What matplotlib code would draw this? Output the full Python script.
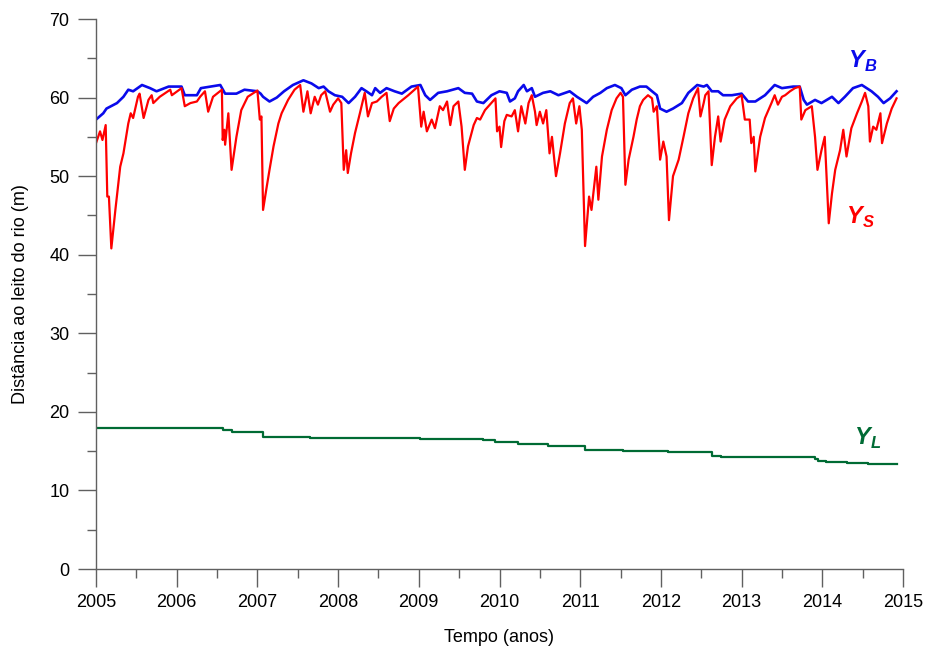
import numpy as np
import matplotlib
matplotlib.use('Agg')
import matplotlib.pyplot as plt
import matplotlib.ticker as ticker

plt.rcParams['font.family'] = ['Liberation Sans', 'DejaVu Sans']
plt.rcParams['mathtext.fontset'] = 'custom'
plt.rcParams['mathtext.bfit'] = 'Liberation Sans:italic:bold'
plt.rcParams['mathtext.rm'] = 'Liberation Sans'

# Y_S (vermelho)
ys_t = [2005.00, 2005.05, 2005.08, 2005.12, 2005.14, 2005.16, 2005.19, 2005.24, 2005.30, 2005.34,
        2005.40, 2005.43, 2005.46, 2005.52, 2005.54, 2005.59, 2005.65, 2005.69, 2005.71, 2005.79,
        2005.92, 2005.94, 2006.06, 2006.10, 2006.17, 2006.25, 2006.29, 2006.35, 2006.39, 2006.45,
        2006.56, 2006.57, 2006.59, 2006.60, 2006.64, 2006.68, 2006.74, 2006.80, 2006.88, 2007.00,
        2007.03, 2007.05, 2007.07, 2007.11, 2007.15, 2007.20, 2007.26, 2007.30, 2007.38, 2007.46,
        2007.53, 2007.57, 2007.62, 2007.66, 2007.71, 2007.75, 2007.79, 2007.84, 2007.90, 2007.94,
        2008.00, 2008.04, 2008.07, 2008.10, 2008.12, 2008.16, 2008.21, 2008.27, 2008.33, 2008.37,
        2008.42, 2008.48, 2008.54, 2008.60, 2008.64, 2008.69, 2008.75, 2008.87, 2008.99, 2009.03,
        2009.06, 2009.10, 2009.16, 2009.20, 2009.26, 2009.30, 2009.35, 2009.39, 2009.43, 2009.49,
        2009.53, 2009.57, 2009.61, 2009.68, 2009.72, 2009.76, 2009.82, 2009.88, 2009.95, 2009.97,
        2010.00, 2010.02, 2010.06, 2010.09, 2010.15, 2010.19, 2010.23, 2010.27, 2010.32, 2010.36,
        2010.40, 2010.44, 2010.46, 2010.50, 2010.54, 2010.58, 2010.62, 2010.65, 2010.70, 2010.75,
        2010.81, 2010.87, 2010.91, 2010.95, 2010.99, 2011.02, 2011.06, 2011.11, 2011.14, 2011.20,
        2011.225, 2011.27, 2011.33, 2011.39, 2011.45, 2011.50, 2011.53, 2011.56, 2011.60, 2011.66,
        2011.70, 2011.74, 2011.78, 2011.84, 2011.89, 2011.91, 2011.95, 2011.99, 2012.03, 2012.07,
        2012.10, 2012.15, 2012.22, 2012.28, 2012.34, 2012.40, 2012.46, 2012.49, 2012.53, 2012.55,
        2012.59, 2012.63, 2012.67, 2012.71, 2012.74, 2012.79, 2012.86, 2012.94, 2013.00, 2013.04,
        2013.10, 2013.12, 2013.15, 2013.17, 2013.23, 2013.29, 2013.37, 2013.41, 2013.45, 2013.50,
        2013.54, 2013.60, 2013.66, 2013.72, 2013.74, 2013.79, 2013.87, 2013.91, 2013.94, 2013.99,
        2014.03, 2014.08, 2014.12, 2014.16, 2014.22, 2014.26, 2014.30, 2014.36, 2014.43, 2014.49,
        2014.53, 2014.57, 2014.59, 2014.63, 2014.67, 2014.72, 2014.74, 2014.80, 2014.86, 2014.92]
ys_v = [54.2, 55.7, 54.6, 56.5, 47.4, 47.4, 40.8, 45.7, 51.2, 52.9,
        56.7, 58.0, 57.4, 60.1, 60.5, 57.4, 59.7, 60.3, 59.3, 60.1,
        61.0, 60.3, 61.2, 58.9, 59.3, 59.5, 60.1, 60.8, 58.2, 60.1,
        61.0, 54.6, 55.9, 54.0, 58.0, 50.8, 55.0, 58.4, 60.1, 60.9,
        57.2, 57.6, 45.7, 48.3, 50.8, 53.8, 56.7, 58.0, 59.7, 61.0,
        61.6, 58.2, 60.8, 58.0, 60.1, 59.1, 60.3, 60.8, 58.2, 59.1,
        59.9, 59.3, 50.8, 53.3, 50.4, 52.9, 55.5, 58.0, 60.6, 57.6,
        59.3, 59.5, 60.1, 60.6, 57.0, 58.6, 59.3, 60.3, 61.4, 56.3,
        58.2, 55.7, 57.2, 56.1, 58.9, 58.4, 59.5, 56.5, 58.9, 59.5,
        56.3, 50.8, 53.8, 56.5, 57.4, 57.2, 58.4, 59.1, 59.9, 55.7,
        56.3, 53.7, 57.0, 57.8, 57.6, 58.4, 55.7, 58.9, 56.7, 59.3,
        60.3, 58.2, 56.5, 58.2, 56.7, 58.4, 52.9, 55.0, 50.0, 52.9,
        56.7, 59.3, 59.9, 56.7, 58.9, 55.9, 41.1, 47.4, 45.7, 51.2,
        47.0, 52.5, 55.9, 58.4, 59.9, 60.6, 60.1, 48.9, 52.1, 55.0,
        57.2, 58.9, 59.7, 60.3, 59.9, 58.2, 58.9, 52.1, 54.4, 52.5,
        44.4, 50.0, 52.1, 55.0, 58.0, 59.9, 61.2, 57.6, 59.3, 60.3,
        60.8, 51.4, 55.0, 57.6, 54.4, 57.2, 58.9, 59.9, 60.3, 57.2,
        57.2, 54.2, 55.0, 50.6, 55.0, 57.4, 59.3, 60.3, 59.1, 60.1,
        60.3, 60.8, 61.2, 61.4, 57.2, 58.4, 58.9, 55.0, 50.8, 53.3,
        55.0, 44.0, 47.8, 50.8, 53.3, 55.9, 52.5, 56.1, 58.0, 59.5,
        60.6, 58.9, 54.4, 56.3, 55.9, 58.0, 54.2, 56.7, 58.6, 59.9]

# Y_B (azul)
yb_t = [2005.00, 2005.09, 2005.13, 2005.26, 2005.34, 2005.40, 2005.46, 2005.57, 2005.67, 2005.75,
        2005.90, 2006.06, 2006.10, 2006.25, 2006.30, 2006.54, 2006.60, 2006.74, 2006.84, 2007.00,
        2007.04, 2007.07, 2007.15, 2007.24, 2007.33, 2007.44, 2007.57, 2007.67, 2007.76, 2007.82,
        2007.88, 2007.96, 2008.05, 2008.13, 2008.21, 2008.29, 2008.35, 2008.42, 2008.46, 2008.52,
        2008.60, 2008.70, 2008.79, 2008.91, 2009.02, 2009.08, 2009.14, 2009.24, 2009.35, 2009.49,
        2009.57, 2009.66, 2009.72, 2009.80, 2009.90, 2010.00, 2010.09, 2010.13, 2010.19, 2010.23,
        2010.30, 2010.34, 2010.40, 2010.44, 2010.54, 2010.63, 2010.73, 2010.87, 2010.96, 2011.08,
        2011.16, 2011.25, 2011.33, 2011.43, 2011.51, 2011.56, 2011.64, 2011.74, 2011.82, 2011.89,
        2011.95, 2011.99, 2012.07, 2012.15, 2012.26, 2012.34, 2012.45, 2012.53, 2012.57, 2012.63,
        2012.71, 2012.77, 2012.88, 2013.00, 2013.08, 2013.17, 2013.29, 2013.41, 2013.50, 2013.64,
        2013.72, 2013.77, 2013.81, 2013.91, 2013.99, 2014.12, 2014.20, 2014.28, 2014.38, 2014.49,
        2014.61, 2014.69, 2014.76, 2014.84, 2014.92]
yb_v = [57.2, 58.0, 58.6, 59.3, 60.1, 61.0, 60.8, 61.6, 61.2, 60.8,
        61.4, 61.4, 60.3, 60.3, 61.2, 61.6, 60.5, 60.5, 61.0, 60.8,
        60.5, 60.1, 59.5, 60.0, 60.8, 61.6, 62.2, 61.8, 61.2, 61.4,
        60.8, 60.3, 60.1, 59.3, 60.1, 61.2, 60.8, 60.3, 61.2, 60.6,
        61.2, 60.8, 60.5, 61.4, 61.6, 60.3, 59.7, 60.6, 60.8, 61.2,
        60.6, 60.5, 59.5, 59.3, 60.3, 60.8, 60.6, 59.5, 59.9, 60.8,
        61.6, 60.8, 61.2, 60.1, 60.6, 60.8, 60.3, 60.8, 60.1, 59.3,
        60.1, 60.6, 61.2, 61.6, 61.2, 60.3, 61.0, 61.4, 61.4, 60.8,
        60.3, 58.6, 58.2, 58.6, 59.3, 60.6, 61.6, 61.4, 61.6, 60.8,
        60.8, 60.3, 60.3, 60.5, 59.5, 59.5, 60.3, 61.6, 61.2, 61.4,
        61.4, 59.7, 59.1, 59.7, 59.3, 60.1, 59.3, 60.1, 61.2, 61.6,
        60.8, 60.1, 59.3, 59.9, 60.8]

# Y_L (verde, em degraus)
yl_t = [2005.00, 2006.39, 2006.57, 2006.68, 2007.07, 2007.65, 2008.07, 2009.02, 2009.55, 2009.80,
        2009.95, 2010.23, 2010.60, 2011.06, 2011.20, 2011.53, 2012.09, 2012.63, 2012.75, 2013.91,
        2013.95, 2014.05, 2014.30, 2014.57, 2014.92]
yl_v = [18.0, 17.9, 17.75, 17.4, 16.75, 16.7, 16.65, 16.6, 16.5, 16.45,
        16.15, 15.95, 15.65, 15.2, 15.1, 15.0, 14.9, 14.4, 14.3, 14.0,
        13.8, 13.6, 13.55, 13.35, 13.35]

c_ys = '#ff0000'
c_yb = '#0a0aeb'
c_yl = '#006b34'
axcol = '#606060'

fig = plt.figure(figsize=(9.26, 6.46), dpi=100)
ax = fig.add_axes([96/926, 77/646, 807/926, 550/646])

ax.plot(yb_t, yb_v, color=c_yb, lw=1.9)
ax.plot(ys_t, ys_v, color=c_ys, lw=1.6)
ax.step(yl_t, yl_v, where='post', color=c_yl, lw=1.6)

ax.set_xlim(2005, 2015)
ax.set_ylim(0, 70)
ax.xaxis.set_major_locator(ticker.MultipleLocator(1))
ax.xaxis.set_minor_locator(ticker.MultipleLocator(0.5))
ax.yaxis.set_major_locator(ticker.MultipleLocator(10))
ax.yaxis.set_minor_locator(ticker.MultipleLocator(5))
ax.xaxis.set_major_formatter(ticker.FormatStrFormatter('%d'))

for s in ['top', 'right']:
    ax.spines[s].set_visible(False)
for s in ['left', 'bottom']:
    ax.spines[s].set_color(axcol)
    ax.spines[s].set_linewidth(1.0)

ax.tick_params(which='major', length=13, width=1, color=axcol, labelsize=13, labelcolor='black')
ax.tick_params(which='minor', length=6.5, width=1, color=axcol)
ax.tick_params(axis='x', which='major', pad=5)
ax.tick_params(axis='y', which='major', pad=6)

ax.set_xlabel('Tempo (anos)', fontsize=13, labelpad=13)
ax.set_ylabel('Distância ao leito do rio (m)', fontsize=13, labelpad=15)

ax.text(2014.5, 64.6, r'$\mathbfit{Y}_{\mathbfit{B}}$', color=c_yb, fontsize=17,
        ha='center', va='center')
ax.text(2014.47, 44.8, r'$\mathbfit{Y}_{\mathbfit{S}}$', color=c_ys, fontsize=17,
        ha='center', va='center')
ax.text(2014.56, 16.6, r'$\mathbfit{Y}_{\mathbfit{L}}$', color=c_yl, fontsize=17,
        ha='center', va='center')

fig.savefig('out.png', dpi=100)
